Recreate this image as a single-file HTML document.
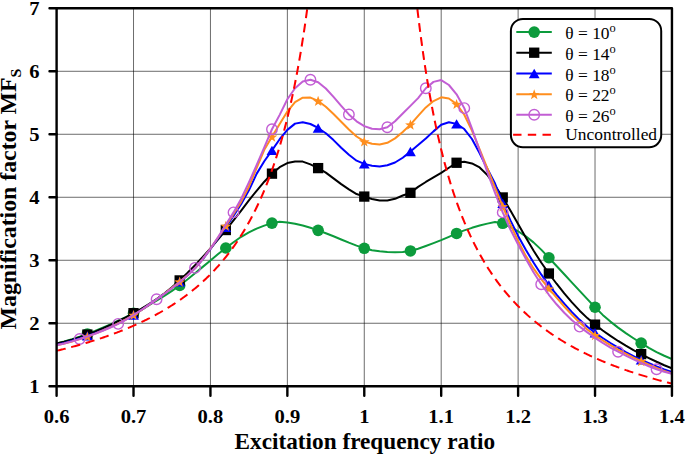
<!DOCTYPE html>
<html><head><meta charset="utf-8"><title>chart</title>
<style>
html,body{margin:0;padding:0;background:#fff;}
body{width:685px;height:456px;position:relative;overflow:hidden;font-family:"Liberation Serif",serif;color:#000;}
.lg{position:absolute;font-size:17.4px;line-height:20px;white-space:nowrap;}
.lg sup{font-size:12.4px;vertical-align:baseline;position:relative;top:-7.0px;line-height:0;}
.xt{position:absolute;width:60px;text-align:center;font-weight:bold;font-size:20.6px;line-height:22px;transform:scaleY(0.95);transform-origin:50% 50%;}
.yt{position:absolute;width:39.5px;text-align:right;font-weight:bold;font-size:20.6px;line-height:22px;transform:scaleY(0.95);transform-origin:50% 50%;}
.xl{position:absolute;width:400px;text-align:center;font-weight:bold;font-size:23.25px;line-height:24px;white-space:nowrap;transform:scaleY(0.95);transform-origin:50% 75%;}
.yl{position:absolute;left:-141.6px;top:187.0px;width:300px;height:24px;text-align:center;font-weight:bold;font-size:23.8px;line-height:24px;white-space:nowrap;transform:rotate(-90deg) scaleY(0.95);transform-origin:center center;}
.yl sub{font-size:16px;vertical-align:baseline;position:relative;top:5.7px;line-height:0;}
</style></head><body>
<svg width="685" height="456" viewBox="0 0 685 456" style="position:absolute;left:0;top:0">
<rect x="0" y="0" width="685" height="456" fill="#ffffff"/>
<path d="M133.52,8.30 V386.25 M210.44,8.30 V386.25 M287.36,8.30 V386.25 M364.28,8.30 V386.25 M441.19,8.30 V386.25 M518.11,8.30 V386.25 M595.03,8.30 V386.25" stroke="#000" stroke-opacity="0.58" stroke-width="1" fill="none"/>
<path d="M56.60,323.26 H671.95 M56.60,260.27 H671.95 M56.60,197.28 H671.95 M56.60,134.28 H671.95 M56.60,71.29 H671.95" stroke="#000" stroke-opacity="0.58" stroke-width="1" fill="none"/>
<defs><clipPath id="c"><rect x="56.6" y="8.3" width="615.35" height="377.95"/></clipPath></defs>
<g clip-path="url(#c)">
<path d="M56.60,343.42 L64.29,341.46 L71.98,339.24 L79.68,336.74 L87.37,333.97 L95.06,330.96 L102.75,327.75 L110.44,324.35 L118.14,320.77 L125.83,317.05 L133.52,313.18 L141.21,309.19 L148.90,305.02 L156.59,300.63 L164.29,295.95 L171.98,290.91 L179.67,285.46 L187.36,279.56 L195.05,273.32 L202.75,266.89 L210.44,260.42 L218.13,254.07 L225.82,247.98 L233.51,242.20 L241.20,236.78 L248.90,232.39 L256.59,228.69 L264.28,225.61 L271.97,223.10 L279.66,221.78 L287.36,222.48 L295.05,223.83 L302.74,225.56 L310.43,227.71 L318.12,230.35 L325.82,233.26 L333.51,236.30 L341.20,239.51 L348.89,242.68 L356.58,245.64 L364.28,248.30 L371.97,250.16 L379.66,251.23 L387.35,251.88 L395.04,252.14 L402.73,252.04 L410.43,250.94 L418.12,248.72 L425.81,245.99 L433.50,243.10 L441.19,240.11 L448.89,236.81 L456.58,233.43 L464.27,230.42 L471.96,227.83 L479.65,225.58 L487.34,223.64 L495.04,221.96 L502.73,223.29 L510.42,226.98 L518.11,231.25 L525.80,236.30 L533.50,242.36 L541.19,249.63 L548.88,257.75 L556.57,265.98 L564.26,274.26 L571.96,282.56 L579.65,290.85 L587.34,299.09 L595.03,307.26 L602.72,314.88 L610.42,321.60 L618.11,327.62 L625.80,333.10 L633.49,338.22 L641.18,343.16 L648.87,347.85 L656.57,352.06 L664.26,355.77 L671.95,358.97" stroke="#0c9b3c" stroke-width="2" fill="none" stroke-linejoin="round"/>
<circle cx="87.37" cy="333.97" r="5.8" fill="#0c9b3c"/>
<circle cx="133.52" cy="313.18" r="5.8" fill="#0c9b3c"/>
<circle cx="179.67" cy="285.46" r="5.8" fill="#0c9b3c"/>
<circle cx="225.82" cy="247.98" r="5.8" fill="#0c9b3c"/>
<circle cx="271.97" cy="223.10" r="5.8" fill="#0c9b3c"/>
<circle cx="318.12" cy="230.35" r="5.8" fill="#0c9b3c"/>
<circle cx="364.28" cy="248.30" r="5.8" fill="#0c9b3c"/>
<circle cx="410.43" cy="250.94" r="5.8" fill="#0c9b3c"/>
<circle cx="456.58" cy="233.43" r="5.8" fill="#0c9b3c"/>
<circle cx="502.73" cy="223.29" r="5.8" fill="#0c9b3c"/>
<circle cx="548.88" cy="257.75" r="5.8" fill="#0c9b3c"/>
<circle cx="595.03" cy="307.26" r="5.8" fill="#0c9b3c"/>
<circle cx="641.18" cy="343.16" r="5.8" fill="#0c9b3c"/>
<path d="M56.60,343.42 L64.29,341.70 L71.98,339.63 L79.68,337.25 L87.37,334.60 L95.06,331.66 L102.75,328.43 L110.44,324.93 L118.14,321.20 L125.83,317.28 L133.52,313.18 L141.21,308.86 L148.90,304.18 L156.59,299.07 L164.29,293.46 L171.98,287.27 L179.67,280.42 L187.36,273.02 L195.05,265.20 L202.75,256.98 L210.44,248.37 L218.13,239.38 L225.82,230.03 L233.51,220.43 L241.20,210.55 L248.90,200.36 L256.59,190.79 L264.28,181.72 L271.97,173.65 L279.66,167.19 L287.36,163.07 L295.05,161.50 L302.74,161.62 L310.43,164.37 L318.12,168.11 L325.82,172.60 L333.51,178.38 L341.20,184.15 L348.89,189.41 L356.58,194.04 L364.28,196.58 L371.97,199.00 L379.66,200.50 L387.35,200.54 L395.04,198.83 L402.73,195.50 L410.43,192.82 L418.12,186.85 L425.81,181.97 L433.50,177.47 L441.19,172.90 L448.89,167.76 L456.58,162.76 L464.27,161.74 L471.96,163.45 L479.65,167.45 L487.34,174.99 L495.04,185.57 L502.73,197.46 L510.42,210.50 L518.11,224.06 L525.80,237.59 L533.50,250.56 L541.19,262.53 L548.88,273.49 L556.57,283.73 L564.26,293.40 L571.96,302.41 L579.65,310.67 L587.34,318.11 L595.03,324.64 L602.72,330.48 L610.42,335.92 L618.11,340.97 L625.80,345.68 L633.49,350.05 L641.18,354.12 L648.87,358.02 L656.57,361.77 L664.26,365.25 L671.95,368.36" stroke="#000000" stroke-width="2" fill="none" stroke-linejoin="round"/>
<rect x="82.22" y="329.45" width="10.3" height="10.3" fill="#000000"/>
<rect x="128.37" y="308.03" width="10.3" height="10.3" fill="#000000"/>
<rect x="174.52" y="275.27" width="10.3" height="10.3" fill="#000000"/>
<rect x="220.67" y="224.88" width="10.3" height="10.3" fill="#000000"/>
<rect x="266.82" y="168.50" width="10.3" height="10.3" fill="#000000"/>
<rect x="312.97" y="162.96" width="10.3" height="10.3" fill="#000000"/>
<rect x="359.13" y="191.43" width="10.3" height="10.3" fill="#000000"/>
<rect x="405.28" y="187.67" width="10.3" height="10.3" fill="#000000"/>
<rect x="451.43" y="157.61" width="10.3" height="10.3" fill="#000000"/>
<rect x="497.58" y="192.31" width="10.3" height="10.3" fill="#000000"/>
<rect x="543.73" y="268.34" width="10.3" height="10.3" fill="#000000"/>
<rect x="589.88" y="319.49" width="10.3" height="10.3" fill="#000000"/>
<rect x="636.03" y="348.97" width="10.3" height="10.3" fill="#000000"/>
<path d="M56.60,344.68 L64.29,342.91 L71.98,340.82 L79.68,338.45 L87.37,335.86 L95.06,333.09 L102.75,330.12 L110.44,326.89 L118.14,323.34 L125.83,319.42 L133.52,315.07 L141.21,310.26 L148.90,305.05 L156.59,299.51 L164.29,293.72 L171.98,287.75 L179.67,281.68 L187.36,275.43 L195.05,268.33 L202.75,259.32 L210.44,249.05 L218.13,238.22 L225.82,227.20 L233.51,215.83 L241.20,203.98 L248.90,190.33 L256.59,173.88 L264.28,161.26 L271.97,150.35 L279.66,139.22 L287.36,129.87 L295.05,123.63 L302.74,122.24 L310.43,123.99 L318.12,127.98 L325.82,133.22 L333.51,140.11 L341.20,147.79 L348.89,154.77 L356.58,160.69 L364.28,163.89 L371.97,165.68 L379.66,166.41 L387.35,165.21 L395.04,162.51 L402.73,157.76 L410.43,151.48 L418.12,145.07 L425.81,138.55 L433.50,131.38 L441.19,124.73 L448.89,122.28 L456.58,123.89 L464.27,129.04 L471.96,139.00 L479.65,153.27 L487.34,168.70 L495.04,183.53 L502.73,203.26 L510.42,220.39 L518.11,235.93 L525.80,249.80 L533.50,262.53 L541.19,274.44 L548.88,285.02 L556.57,294.57 L564.26,303.63 L571.96,312.09 L579.65,319.83 L587.34,326.74 L595.03,332.71 L602.72,338.02 L610.42,343.02 L618.11,347.71 L625.80,352.08 L633.49,356.11 L641.18,359.79 L648.87,363.25 L656.57,366.53 L664.26,369.53 L671.95,372.14" stroke="#0000ff" stroke-width="2" fill="none" stroke-linejoin="round"/>
<polygon points="87.37,331.16 81.97,340.56 92.77,340.56" fill="#0000ff"/>
<polygon points="133.52,310.37 128.12,319.77 138.92,319.77" fill="#0000ff"/>
<polygon points="179.67,276.98 174.27,286.38 185.07,286.38" fill="#0000ff"/>
<polygon points="225.82,222.50 220.42,231.90 231.22,231.90" fill="#0000ff"/>
<polygon points="271.97,145.65 266.57,155.05 277.37,155.05" fill="#0000ff"/>
<polygon points="318.12,123.28 312.72,132.68 323.52,132.68" fill="#0000ff"/>
<polygon points="364.28,159.19 358.88,168.59 369.68,168.59" fill="#0000ff"/>
<polygon points="410.43,146.78 405.03,156.18 415.83,156.18" fill="#0000ff"/>
<polygon points="456.58,119.19 451.18,128.59 461.98,128.59" fill="#0000ff"/>
<polygon points="502.73,198.56 497.33,207.96 508.13,207.96" fill="#0000ff"/>
<polygon points="548.88,280.32 543.48,289.72 554.28,289.72" fill="#0000ff"/>
<polygon points="595.03,328.01 589.63,337.41 600.43,337.41" fill="#0000ff"/>
<polygon points="641.18,355.09 635.78,364.49 646.58,364.49" fill="#0000ff"/>
<path d="M56.60,345.31 L64.29,343.59 L71.98,341.51 L79.68,339.13 L87.37,336.49 L95.06,333.63 L102.75,330.54 L110.44,327.18 L118.14,323.51 L125.83,319.49 L133.52,315.07 L141.21,310.23 L148.90,305.02 L156.59,299.49 L164.29,293.72 L171.98,287.76 L179.67,281.68 L187.36,275.36 L195.05,268.14 L202.75,259.01 L210.44,248.61 L218.13,237.46 L225.82,225.94 L233.51,214.01 L241.20,201.61 L248.90,186.73 L256.59,168.11 L264.28,149.82 L271.97,136.80 L279.66,124.10 L287.36,111.54 L295.05,102.06 L302.74,97.69 L310.43,97.59 L318.12,100.93 L325.82,106.73 L333.51,114.00 L341.20,121.70 L348.89,129.48 L356.58,136.53 L364.28,141.46 L371.97,143.78 L379.66,144.55 L387.35,142.81 L395.04,138.38 L402.73,132.09 L410.43,124.65 L418.12,115.87 L425.81,107.45 L433.50,101.08 L441.19,97.31 L448.89,98.48 L456.58,104.03 L464.27,114.75 L471.96,130.61 L479.65,149.33 L487.34,168.47 L495.04,187.63 L502.73,206.41 L510.42,224.35 L518.11,240.99 L525.80,255.88 L533.50,268.43 L541.19,279.12 L548.88,288.61 L556.57,297.68 L564.26,306.50 L571.96,314.86 L579.65,322.57 L587.34,329.43 L595.03,335.23 L602.72,340.29 L610.42,345.05 L618.11,349.53 L625.80,353.71 L633.49,357.60 L641.18,361.18 L648.87,364.59 L656.57,367.87 L664.26,370.93 L671.95,373.65" stroke="#ff8e1e" stroke-width="2" fill="none" stroke-linejoin="round"/>
<polygon points="87.37,331.39 88.69,335.17 92.69,335.26 89.51,337.68 90.66,341.52 87.37,339.24 84.08,341.52 85.23,337.68 82.04,335.26 86.04,335.17" fill="#ff8e1e"/>
<polygon points="133.52,309.97 134.84,313.75 138.84,313.84 135.66,316.26 136.81,320.10 133.52,317.82 130.23,320.10 131.38,316.26 128.19,313.84 132.20,313.75" fill="#ff8e1e"/>
<polygon points="179.67,276.58 180.99,280.36 185.00,280.45 181.81,282.88 182.96,286.71 179.67,284.43 176.38,286.71 177.53,282.88 174.34,280.45 178.35,280.36" fill="#ff8e1e"/>
<polygon points="225.82,220.84 227.14,224.62 231.15,224.71 227.96,227.13 229.11,230.97 225.82,228.69 222.53,230.97 223.68,227.13 220.50,224.71 224.50,224.62" fill="#ff8e1e"/>
<polygon points="271.97,131.70 273.30,135.48 277.30,135.57 274.11,138.00 275.26,141.83 271.97,139.55 268.68,141.83 269.83,138.00 266.65,135.57 270.65,135.48" fill="#ff8e1e"/>
<polygon points="318.12,95.83 319.45,99.61 323.45,99.70 320.26,102.13 321.42,105.96 318.12,103.68 314.83,105.96 315.98,102.13 312.80,99.70 316.80,99.61" fill="#ff8e1e"/>
<polygon points="364.28,136.36 365.60,140.14 369.60,140.23 366.41,142.66 367.57,146.49 364.28,144.21 360.98,146.49 362.14,142.66 358.95,140.23 362.95,140.14" fill="#ff8e1e"/>
<polygon points="410.43,119.55 411.75,123.33 415.75,123.42 412.57,125.84 413.72,129.68 410.43,127.40 407.13,129.68 408.29,125.84 405.10,123.42 409.10,123.33" fill="#ff8e1e"/>
<polygon points="456.58,98.93 457.90,102.71 461.90,102.80 458.72,105.23 459.87,109.07 456.58,106.78 453.29,109.07 454.44,105.23 451.25,102.80 455.25,102.71" fill="#ff8e1e"/>
<polygon points="502.73,201.31 504.05,205.09 508.05,205.18 504.87,207.60 506.02,211.44 502.73,209.16 499.44,211.44 500.59,207.60 497.40,205.18 501.41,205.09" fill="#ff8e1e"/>
<polygon points="548.88,283.51 550.20,287.29 554.21,287.38 551.02,289.81 552.17,293.64 548.88,291.36 545.59,293.64 546.74,289.81 543.55,287.38 547.56,287.29" fill="#ff8e1e"/>
<polygon points="595.03,330.13 596.35,333.91 600.36,334.00 597.17,336.42 598.32,340.26 595.03,337.98 591.74,340.26 592.89,336.42 589.71,334.00 593.71,333.91" fill="#ff8e1e"/>
<polygon points="641.18,356.08 642.51,359.86 646.51,359.95 643.32,362.37 644.47,366.21 641.18,363.93 637.89,366.21 639.04,362.37 635.86,359.95 639.86,359.86" fill="#ff8e1e"/>
<path d="M56.60,345.31 L64.29,343.48 L71.98,341.34 L79.68,339.01 L87.37,336.50 L95.06,333.77 L102.75,330.78 L110.44,327.49 L118.14,323.89 L125.83,319.76 L133.52,315.07 L141.21,309.97 L148.90,304.67 L156.59,299.32 L164.29,293.94 L171.98,288.28 L179.67,282.16 L187.36,275.40 L195.05,267.83 L202.75,258.90 L210.44,248.49 L218.13,237.00 L225.82,224.83 L233.51,212.39 L241.20,198.72 L248.90,182.35 L256.59,165.15 L264.28,147.44 L271.97,129.24 L279.66,114.87 L287.36,99.20 L295.05,88.22 L302.74,81.43 L310.43,79.73 L318.12,82.22 L325.82,88.53 L333.51,96.94 L341.20,105.88 L348.89,114.44 L356.58,121.34 L364.28,126.09 L371.97,128.79 L379.66,129.23 L387.35,127.24 L395.04,121.28 L402.73,113.57 L410.43,105.84 L418.12,98.12 L425.81,88.25 L433.50,81.89 L441.19,80.05 L448.89,85.01 L456.58,94.34 L464.27,108.13 L471.96,128.55 L479.65,150.52 L487.34,172.14 L495.04,192.90 L502.73,212.39 L510.42,229.47 L518.11,244.43 L525.80,258.72 L533.50,272.19 L541.19,284.20 L548.88,294.76 L556.57,304.28 L564.26,312.75 L571.96,320.19 L579.65,326.60 L587.34,332.35 L595.03,337.81 L602.72,342.90 L610.42,347.56 L618.11,351.73 L625.80,355.59 L633.49,359.34 L641.18,362.91 L648.87,366.23 L656.57,369.24 L664.26,371.82 L671.95,373.84" stroke="#c25ed4" stroke-width="2" fill="none" stroke-linejoin="round"/>
<circle cx="79.68" cy="339.01" r="5.25" fill="none" stroke="#c25ed4" stroke-width="1.4"/>
<circle cx="118.14" cy="323.89" r="5.25" fill="none" stroke="#c25ed4" stroke-width="1.4"/>
<circle cx="156.59" cy="299.32" r="5.25" fill="none" stroke="#c25ed4" stroke-width="1.4"/>
<circle cx="195.05" cy="267.83" r="5.25" fill="none" stroke="#c25ed4" stroke-width="1.4"/>
<circle cx="233.51" cy="212.39" r="5.25" fill="none" stroke="#c25ed4" stroke-width="1.4"/>
<circle cx="271.97" cy="129.24" r="5.25" fill="none" stroke="#c25ed4" stroke-width="1.4"/>
<circle cx="310.43" cy="79.73" r="5.25" fill="none" stroke="#c25ed4" stroke-width="1.4"/>
<circle cx="348.89" cy="114.44" r="5.25" fill="none" stroke="#c25ed4" stroke-width="1.4"/>
<circle cx="387.35" cy="127.24" r="5.25" fill="none" stroke="#c25ed4" stroke-width="1.4"/>
<circle cx="425.81" cy="88.25" r="5.25" fill="none" stroke="#c25ed4" stroke-width="1.4"/>
<circle cx="464.27" cy="108.13" r="5.25" fill="none" stroke="#c25ed4" stroke-width="1.4"/>
<circle cx="502.73" cy="212.39" r="5.25" fill="none" stroke="#c25ed4" stroke-width="1.4"/>
<circle cx="541.19" cy="284.20" r="5.25" fill="none" stroke="#c25ed4" stroke-width="1.4"/>
<circle cx="579.65" cy="326.60" r="5.25" fill="none" stroke="#c25ed4" stroke-width="1.4"/>
<circle cx="618.11" cy="351.73" r="5.25" fill="none" stroke="#c25ed4" stroke-width="1.4"/>
<circle cx="656.57" cy="369.24" r="5.25" fill="none" stroke="#c25ed4" stroke-width="1.4"/>
<g transform="scale(1,0.95)">
<path d="M56.60,369.28 L57.46,369.07 L58.32,368.85 L59.19,368.63 L60.05,368.40 L60.91,368.18 L61.77,367.95 L62.63,367.73 L63.49,367.50 L64.36,367.27 L65.22,367.04 L66.08,366.81 L66.94,366.57 L67.80,366.34 L68.67,366.10 L69.53,365.86 L70.39,365.63 L71.25,365.38 L72.11,365.14 L72.97,364.90 L73.84,364.65 L74.70,364.41 L75.56,364.16 L76.42,363.91 L77.28,363.65 L78.14,363.40 L79.01,363.15 L79.87,362.89 L80.73,362.63 L81.59,362.37 L82.45,362.11 L83.32,361.84 L84.18,361.58 L85.04,361.31 L85.90,361.04 L86.76,360.77 L87.62,360.50 L88.49,360.23 L89.35,359.95 L90.21,359.67 L91.07,359.39 L91.93,359.11 L92.80,358.83 L93.66,358.54 L94.52,358.25 L95.38,357.97 L96.24,357.67 L97.10,357.38 L97.97,357.09 L98.83,356.79 L99.69,356.49 L100.55,356.19 L101.41,355.88 L102.28,355.58 L103.14,355.27 L104.00,354.96 L104.86,354.65 L105.72,354.33 L106.58,354.02 L107.45,353.70 L108.31,353.38 L109.17,353.06 L110.03,352.73 L110.89,352.40 L111.76,352.07 L112.62,351.74 L113.48,351.41 L114.34,351.07 L115.20,350.73 L116.06,350.39 L116.93,350.04 L117.79,349.69 L118.65,349.34 L119.51,348.99 L120.37,348.64 L121.23,348.28 L122.10,347.92 L122.96,347.56 L123.82,347.19 L124.68,346.82 L125.54,346.45 L126.41,346.08 L127.27,345.70 L128.13,345.32 L128.99,344.94 L129.85,344.55 L130.71,344.16 L131.58,343.77 L132.44,343.38 L133.30,342.98 L134.16,342.58 L135.02,342.18 L135.89,341.77 L136.75,341.36 L137.61,340.95 L138.47,340.53 L139.33,340.11 L140.19,339.69 L141.06,339.26 L141.92,338.83 L142.78,338.40 L143.64,337.96 L144.50,337.52 L145.37,337.08 L146.23,336.63 L147.09,336.18 L147.95,335.72 L148.81,335.26 L149.67,334.80 L150.54,334.33 L151.40,333.86 L152.26,333.39 L153.12,332.91 L153.98,332.43 L154.85,331.94 L155.71,331.45 L156.57,330.96 L157.43,330.46 L158.29,329.95 L159.15,329.45 L160.02,328.94 L160.88,328.42 L161.74,327.90 L162.60,327.37 L163.46,326.84 L164.32,326.31 L165.19,325.77 L166.05,325.22 L166.91,324.67 L167.77,324.12 L168.63,323.56 L169.50,323.00 L170.36,322.43 L171.22,321.85 L172.08,321.27 L172.94,320.69 L173.80,320.10 L174.67,319.50 L175.53,318.90 L176.39,318.29 L177.25,317.68 L178.11,317.06 L178.98,316.43 L179.84,315.80 L180.70,315.17 L181.56,314.52 L182.42,313.87 L183.28,313.22 L184.15,312.56 L185.01,311.89 L185.87,311.21 L186.73,310.53 L187.59,309.84 L188.46,309.15 L189.32,308.44 L190.18,307.74 L191.04,307.02 L191.90,306.30 L192.76,305.56 L193.63,304.82 L194.49,304.08 L195.35,303.32 L196.21,302.56 L197.07,301.79 L197.93,301.01 L198.80,300.23 L199.66,299.43 L200.52,298.63 L201.38,297.82 L202.24,297.00 L203.11,296.17 L203.97,295.33 L204.83,294.48 L205.69,293.62 L206.55,292.76 L207.41,291.88 L208.28,291.00 L209.14,290.10 L210.00,289.19 L210.86,288.28 L211.72,287.35 L212.59,286.41 L213.45,285.46 L214.31,284.50 L215.17,283.53 L216.03,282.55 L216.89,281.56 L217.76,280.55 L218.62,279.53 L219.48,278.50 L220.34,277.46 L221.20,276.40 L222.07,275.34 L222.93,274.26 L223.79,273.16 L224.65,272.05 L225.51,270.93 L226.37,269.79 L227.24,268.64 L228.10,267.48 L228.96,266.30 L229.82,265.10 L230.68,263.89 L231.55,262.66 L232.41,261.42 L233.27,260.16 L234.13,258.88 L234.99,257.59 L235.85,256.28 L236.72,254.95 L237.58,253.60 L238.44,252.23 L239.30,250.85 L240.16,249.44 L241.02,248.02 L241.89,246.57 L242.75,245.11 L243.61,243.62 L244.47,242.11 L245.33,240.58 L246.20,239.03 L247.06,237.46 L247.92,235.86 L248.78,234.23 L249.64,232.59 L250.50,230.91 L251.37,229.22 L252.23,227.49 L253.09,225.74 L253.95,223.96 L254.81,222.15 L255.68,220.32 L256.54,218.45 L257.40,216.56 L258.26,214.63 L259.12,212.67 L259.98,210.68 L260.85,208.66 L261.71,206.60 L262.57,204.50 L263.43,202.38 L264.29,200.21 L265.16,198.00 L266.02,195.76 L266.88,193.48 L267.74,191.16 L268.60,188.79 L269.46,186.38 L270.33,183.93 L271.19,181.43 L272.05,178.88 L272.91,176.29 L273.77,173.65 L274.64,170.95 L275.50,168.21 L276.36,165.41 L277.22,162.55 L278.08,159.64 L278.94,156.67 L279.81,153.63 L280.67,150.54 L281.53,147.38 L282.39,144.15 L283.25,140.86 L284.11,137.49 L284.98,134.05 L285.84,130.53 L286.70,126.94 L287.56,123.27 L288.42,119.51 L289.29,115.67 L290.15,111.73 L291.01,107.71 L291.87,103.58 L292.73,99.36 L293.59,95.04 L294.46,90.61 L295.32,86.07 L296.18,81.41 L297.04,76.63 L297.90,71.73 L298.77,66.71 L299.63,61.54 L300.49,56.24 L301.35,50.79 L302.21,45.20 L303.07,39.44 L303.94,33.52 L304.80,27.43 L305.66,21.16 L306.52,14.71 L307.38,8.06 L308.25,1.20 L309.11,-5.87 L309.97,-13.16 L310.83,-20.68 L311.69,-28.46 L312.55,-36.48 L313.42,-44.79 L314.28,-53.37" stroke="#ff0000" stroke-width="2.05" fill="none" stroke-dasharray="9.35,5.7" stroke-dashoffset="0.0"/>
<path d="M417.38,9.57 L418.23,17.10 L419.09,24.39 L419.94,31.47 L420.79,38.33 L421.64,44.99 L422.49,51.45 L423.34,57.73 L424.19,63.83 L425.05,69.76 L425.90,75.53 L426.75,81.14 L427.60,86.60 L428.45,91.91 L429.30,97.09 L430.15,102.13 L431.01,107.04 L431.86,111.83 L432.71,116.51 L433.56,121.06 L434.41,125.51 L435.26,129.85 L436.11,134.08 L436.97,138.22 L437.82,142.26 L438.67,146.21 L439.52,150.07 L440.37,153.85 L441.22,157.54 L442.07,161.15 L442.93,164.68 L443.78,168.14 L444.63,171.52 L445.48,174.83 L446.33,178.07 L447.18,181.25 L448.03,184.36 L448.89,187.41 L449.74,190.40 L450.59,193.33 L451.44,196.20 L452.29,199.02 L453.14,201.78 L453.99,204.49 L454.84,207.15 L455.70,209.76 L456.55,212.32 L457.40,214.83 L458.25,217.30 L459.10,219.72 L459.95,222.11 L460.80,224.44 L461.66,226.74 L462.51,229.00 L463.36,231.22 L464.21,233.40 L465.06,235.55 L465.91,237.65 L466.76,239.73 L467.62,241.77 L468.47,243.77 L469.32,245.74 L470.17,247.69 L471.02,249.60 L471.87,251.48 L472.72,253.33 L473.58,255.15 L474.43,256.94 L475.28,258.71 L476.13,260.44 L476.98,262.16 L477.83,263.84 L478.68,265.50 L479.54,267.14 L480.39,268.75 L481.24,270.34 L482.09,271.91 L482.94,273.45 L483.79,274.97 L484.64,276.47 L485.49,277.95 L486.35,279.41 L487.20,280.85 L488.05,282.27 L488.90,283.66 L489.75,285.04 L490.60,286.40 L491.45,287.75 L492.31,289.07 L493.16,290.38 L494.01,291.67 L494.86,292.94 L495.71,294.20 L496.56,295.44 L497.41,296.66 L498.27,297.87 L499.12,299.06 L499.97,300.24 L500.82,301.40 L501.67,302.55 L502.52,303.68 L503.37,304.80 L504.23,305.91 L505.08,307.00 L505.93,308.08 L506.78,309.15 L507.63,310.21 L508.48,311.25 L509.33,312.28 L510.19,313.30 L511.04,314.30 L511.89,315.29 L512.74,316.28 L513.59,317.25 L514.44,318.21 L515.29,319.16 L516.15,320.10 L517.00,321.02 L517.85,321.94 L518.70,322.85 L519.55,323.75 L520.40,324.63 L521.25,325.51 L522.10,326.38 L522.96,327.24 L523.81,328.09 L524.66,328.93 L525.51,329.76 L526.36,330.58 L527.21,331.40 L528.06,332.20 L528.92,333.00 L529.77,333.79 L530.62,334.57 L531.47,335.34 L532.32,336.11 L533.17,336.86 L534.02,337.61 L534.88,338.36 L535.73,339.09 L536.58,339.82 L537.43,340.54 L538.28,341.25 L539.13,341.96 L539.98,342.65 L540.84,343.35 L541.69,344.03 L542.54,344.71 L543.39,345.38 L544.24,346.05 L545.09,346.71 L545.94,347.36 L546.80,348.01 L547.65,348.65 L548.50,349.29 L549.35,349.91 L550.20,350.54 L551.05,351.16 L551.90,351.77 L552.75,352.37 L553.61,352.97 L554.46,353.57 L555.31,354.16 L556.16,354.74 L557.01,355.32 L557.86,355.90 L558.71,356.47 L559.57,357.03 L560.42,357.59 L561.27,358.15 L562.12,358.70 L562.97,359.24 L563.82,359.78 L564.67,360.32 L565.53,360.85 L566.38,361.37 L567.23,361.90 L568.08,362.41 L568.93,362.93 L569.78,363.44 L570.63,363.94 L571.49,364.44 L572.34,364.94 L573.19,365.43 L574.04,365.92 L574.89,366.40 L575.74,366.88 L576.59,367.36 L577.45,367.83 L578.30,368.30 L579.15,368.76 L580.00,369.23 L580.85,369.68 L581.70,370.14 L582.55,370.59 L583.41,371.03 L584.26,371.48 L585.11,371.92 L585.96,372.35 L586.81,372.79 L587.66,373.22 L588.51,373.64 L589.36,374.06 L590.22,374.48 L591.07,374.90 L591.92,375.31 L592.77,375.73 L593.62,376.13 L594.47,376.54 L595.32,376.94 L596.18,377.34 L597.03,377.73 L597.88,378.12 L598.73,378.51 L599.58,378.90 L600.43,379.28 L601.28,379.66 L602.14,380.04 L602.99,380.42 L603.84,380.79 L604.69,381.16 L605.54,381.53 L606.39,381.89 L607.24,382.25 L608.10,382.61 L608.95,382.97 L609.80,383.33 L610.65,383.68 L611.50,384.03 L612.35,384.37 L613.20,384.72 L614.06,385.06 L614.91,385.40 L615.76,385.74 L616.61,386.07 L617.46,386.41 L618.31,386.74 L619.16,387.07 L620.02,387.39 L620.87,387.72 L621.72,388.04 L622.57,388.36 L623.42,388.68 L624.27,388.99 L625.12,389.30 L625.97,389.62 L626.83,389.92 L627.68,390.23 L628.53,390.54 L629.38,390.84 L630.23,391.14 L631.08,391.44 L631.93,391.74 L632.79,392.03 L633.64,392.33 L634.49,392.62 L635.34,392.91 L636.19,393.20 L637.04,393.48 L637.89,393.77 L638.75,394.05 L639.60,394.33 L640.45,394.61 L641.30,394.89 L642.15,395.16 L643.00,395.43 L643.85,395.71 L644.71,395.98 L645.56,396.25 L646.41,396.51 L647.26,396.78 L648.11,397.04 L648.96,397.30 L649.81,397.56 L650.67,397.82 L651.52,398.08 L652.37,398.34 L653.22,398.59 L654.07,398.84 L654.92,399.09 L655.77,399.34 L656.62,399.59 L657.48,399.84 L658.33,400.08 L659.18,400.33 L660.03,400.57 L660.88,400.81 L661.73,401.05 L662.58,401.29 L663.44,401.53 L664.29,401.76 L665.14,402.00 L665.99,402.23 L666.84,402.46 L667.69,402.69 L668.54,402.92 L669.40,403.15 L670.25,403.37 L671.10,403.60 L671.95,403.82" stroke="#ff0000" stroke-width="2.05" fill="none" stroke-dasharray="9.25,5.61" stroke-dashoffset="0.0"/>
</g>
</g>
<rect x="56.6" y="8.3" width="615.35" height="377.95" fill="none" stroke="#000" stroke-width="2.4" stroke-linejoin="round"/>
<path d="M56.60,386.25 V395.75 M133.52,386.25 V395.75 M210.44,386.25 V395.75 M287.36,386.25 V395.75 M364.28,386.25 V395.75 M441.19,386.25 V395.75 M518.11,386.25 V395.75 M595.03,386.25 V395.75 M671.95,386.25 V395.75 M56.60,386.25 H49.50 M56.60,323.26 H49.50 M56.60,260.27 H49.50 M56.60,197.28 H49.50 M56.60,134.28 H49.50 M56.60,71.29 H49.50 M56.60,8.30 H49.50" stroke="#000" stroke-width="2.4" fill="none" stroke-linecap="round"/>
<rect x="510.9" y="18.9" width="150.30000000000007" height="128.29999999999998" rx="12" ry="12" fill="#fff" stroke="#000" stroke-width="2"/>
<path d="M516.3,32.1 H551.8" stroke="#0c9b3c" stroke-width="2"/>
<circle cx="534.20" cy="32.10" r="5.8" fill="#0c9b3c"/>
<path d="M516.3,52.7 H551.8" stroke="#000000" stroke-width="2"/>
<rect x="529.05" y="47.55" width="10.3" height="10.3" fill="#000000"/>
<path d="M516.3,73.5 H551.8" stroke="#0000ff" stroke-width="2"/>
<polygon points="534.20,68.80 528.80,78.20 539.60,78.20" fill="#0000ff"/>
<path d="M516.3,94.3 H551.8" stroke="#ff8e1e" stroke-width="2"/>
<polygon points="534.20,89.20 535.52,92.98 539.53,93.07 536.34,95.50 537.49,99.33 534.20,97.05 530.91,99.33 532.06,95.50 528.87,93.07 532.88,92.98" fill="#ff8e1e"/>
<path d="M516.3,114.8 H551.8" stroke="#c25ed4" stroke-width="2"/>
<circle cx="534.20" cy="114.80" r="5.25" fill="none" stroke="#c25ed4" stroke-width="1.4"/>
<path d="M513.1,134.8 H552" stroke="#ff0000" stroke-width="2" stroke-dasharray="8.4,6.3"/>
</svg>
<div class="lg" style="left:565.3px;top:23.1px">θ = 10<sup>o</sup></div>
<div class="lg" style="left:565.3px;top:43.7px">θ = 14<sup>o</sup></div>
<div class="lg" style="left:565.3px;top:64.5px">θ = 18<sup>o</sup></div>
<div class="lg" style="left:565.3px;top:85.3px">θ = 22<sup>o</sup></div>
<div class="lg" style="left:565.3px;top:105.8px">θ = 26<sup>o</sup></div>
<div class="lg" style="left:565.3px;top:124.4px">Uncontrolled</div>
<div class="xt" style="left:26.6px;top:404.5px">0.6</div>
<div class="xt" style="left:103.5px;top:404.5px">0.7</div>
<div class="xt" style="left:180.4px;top:404.5px">0.8</div>
<div class="xt" style="left:257.4px;top:404.5px">0.9</div>
<div class="xt" style="left:334.3px;top:404.5px">1</div>
<div class="xt" style="left:411.2px;top:404.5px">1.1</div>
<div class="xt" style="left:488.1px;top:404.5px">1.2</div>
<div class="xt" style="left:565.0px;top:404.5px">1.3</div>
<div class="xt" style="left:641.9px;top:404.5px">1.4</div>
<div class="yt" style="left:0px;top:375.2px">1</div>
<div class="yt" style="left:0px;top:312.3px">2</div>
<div class="yt" style="left:0px;top:249.3px">3</div>
<div class="yt" style="left:0px;top:186.3px">4</div>
<div class="yt" style="left:0px;top:123.3px">5</div>
<div class="yt" style="left:0px;top:60.3px">6</div>
<div class="yt" style="left:0px;top:-2.7px">7</div>
<div class="xl" style="left:164.8px;top:429.3px">Excitation frequency ratio</div>
<div class="yl">Magnification factor MF<sub>S</sub></div>
</body></html>
